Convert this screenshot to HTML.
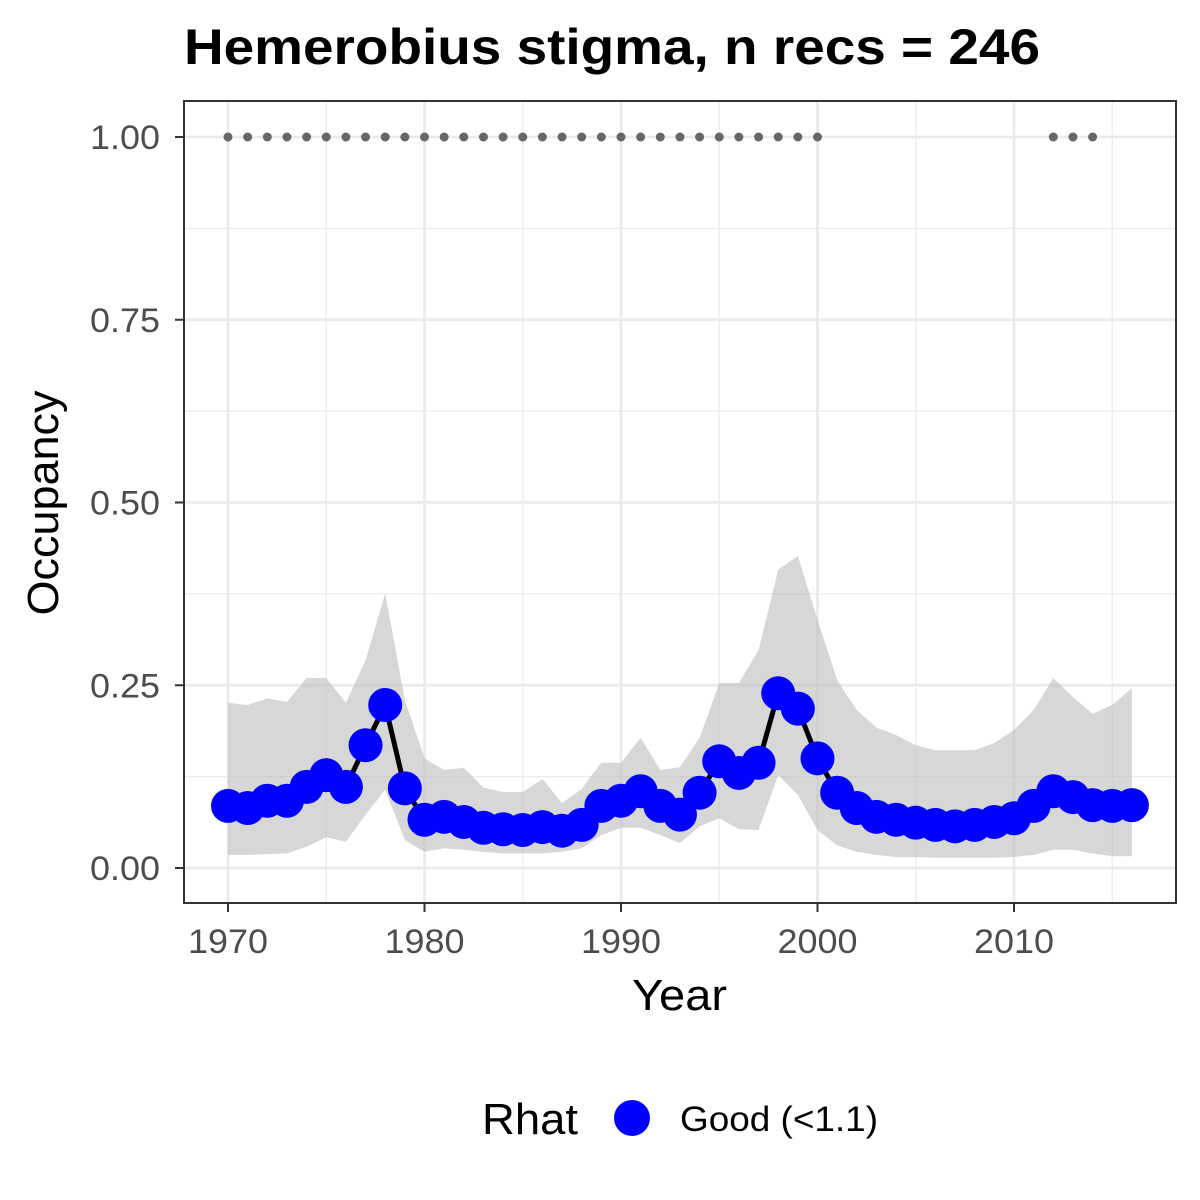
<!DOCTYPE html>
<html><head><meta charset="utf-8"><style>
html,body{margin:0;padding:0;background:#fff;}
svg{display:block;font-family:"Liberation Sans",Arial,sans-serif;}
</style></head><body>
<svg id="chart" width="1200" height="1200" viewBox="0 0 1200 1200">
<rect width="1200" height="1200" fill="#fff"/>
<text x="184" y="64" font-size="50" font-weight="bold" fill="#000" textLength="856" lengthAdjust="spacingAndGlyphs">Hemerobius stigma, n recs = 246</text>
<g id="grid"></g>
<g id="band"></g>
<g id="line"></g>
<g id="pts"></g>
<g id="dots"></g>
<rect x="184" y="101" width="992" height="802" fill="none" stroke="#333" stroke-width="2"/>
<g id="axes"></g>
<text x="632" y="1010" font-size="44" fill="#000" textLength="95" lengthAdjust="spacingAndGlyphs">Year</text>
<text transform="translate(58,503) rotate(-90)" font-size="44" text-anchor="middle" fill="#000" textLength="225" lengthAdjust="spacingAndGlyphs">Occupancy</text>
<g>
<text x="482" y="1134" font-size="44" fill="#000" textLength="96" lengthAdjust="spacingAndGlyphs">Rhat</text>
<circle cx="632" cy="1118" r="18" fill="#0000ff"/>
<text x="680" y="1131" font-size="35" fill="#000" textLength="198" lengthAdjust="spacingAndGlyphs">Good (&lt;1.1)</text>
</g>
</svg>
<script>
const years=[1970,1971,1972,1973,1974,1975,1976,1977,1978,1979,1980,1981,1982,1983,1984,1985,1986,1987,1988,1989,1990,1991,1992,1993,1994,1995,1996,1997,1998,1999,2000,2001,2002,2003,2004,2005,2006,2007,2008,2009,2010,2011,2012,2013,2014,2015,2016];
const meanOcc=[0.085,0.082,0.092,0.092,0.111,0.127,0.111,0.168,0.223,0.109,0.066,0.07,0.063,0.055,0.053,0.052,0.056,0.051,0.059,0.085,0.092,0.105,0.085,0.073,0.103,0.146,0.13,0.144,0.239,0.218,0.15,0.103,0.082,0.07,0.066,0.062,0.059,0.057,0.059,0.063,0.068,0.085,0.105,0.097,0.086,0.085,0.086];
const upperOcc=[0.226,0.223,0.232,0.227,0.26,0.26,0.226,0.284,0.376,0.23,0.15,0.134,0.137,0.11,0.104,0.104,0.122,0.089,0.108,0.144,0.144,0.178,0.134,0.138,0.178,0.253,0.253,0.298,0.408,0.427,0.34,0.257,0.216,0.192,0.182,0.168,0.161,0.161,0.161,0.171,0.189,0.216,0.26,0.234,0.211,0.223,0.246];
const lowerOcc=[0.018,0.018,0.019,0.02,0.029,0.042,0.036,0.073,0.107,0.038,0.022,0.027,0.025,0.022,0.02,0.02,0.02,0.022,0.027,0.045,0.055,0.055,0.045,0.034,0.057,0.068,0.053,0.052,0.127,0.1,0.052,0.031,0.022,0.018,0.015,0.015,0.014,0.014,0.014,0.014,0.015,0.018,0.025,0.025,0.02,0.016,0.016];
const recordYears=[1970,1971,1972,1973,1974,1975,1976,1977,1978,1979,1980,1981,1982,1983,1984,1985,1986,1987,1988,1989,1990,1991,1992,1993,1994,1995,1996,1997,1998,1999,2000,2012,2013,2014];
const xTicks=[1970,1980,1990,2000,2010];
const yTicks=[0,0.25,0.5,0.75,1];
const yTickLabels=["0.00","0.25","0.50","0.75","1.00"];

const NS="http://www.w3.org/2000/svg";
const xs=y=>228+(y-1970)*19.65;
const ys=v=>868-v*731;
function mk(tag,attrs,parent){const e=document.createElementNS(NS,tag);for(const k in attrs)e.setAttribute(k,attrs[k]);document.getElementById(parent).appendChild(e);return e;}

[1975,1985,1995,2005,2015].forEach(t=>{const e=mk('line',{x1:xs(t),x2:xs(t),y1:101,y2:903,stroke:'#ebebeb','stroke-width':1.3},'grid');

});
[0.125,0.375,0.625,0.875].forEach(t=>{const e=mk('line',{x1:184,x2:1176,y1:ys(t),y2:ys(t),stroke:'#ebebeb','stroke-width':1.3},'grid');

});
xTicks.forEach(t=>{const e=mk('line',{x1:xs(t),x2:xs(t),y1:101,y2:903,stroke:'#ebebeb','stroke-width':2.7},'grid');

});
yTicks.forEach(t=>{const e=mk('line',{x1:184,x2:1176,y1:ys(t),y2:ys(t),stroke:'#ebebeb','stroke-width':2.7},'grid');

});

let d='';years.forEach((y,i)=>{d+=(i?'L':'M')+xs(y)+','+ys(upperOcc[i]);});
for(let i=years.length-1;i>=0;i--)d+='L'+xs(years[i])+','+ys(lowerOcc[i]);
const band=mk('path',{d:d+'Z',fill:'#bdbdbd','fill-opacity':0.6},'band');



const ln=mk('polyline',{points:years.map((y,i)=>xs(y)+','+ys(meanOcc[i])).join(' '),fill:'none',stroke:'#000','stroke-width':5},'line');



years.forEach((y,i)=>{const c=mk('circle',{cx:xs(y),cy:ys(meanOcc[i]),r:17,fill:'#0000ff'},'pts');

});

recordYears.forEach(y=>{const c=mk('circle',{cx:xs(y),cy:ys(1),r:4.5,fill:'#666'},'dots');

});

xTicks.forEach(t=>{const l=mk('line',{x1:xs(t),x2:xs(t),y1:903,y2:912,stroke:'#333','stroke-width':2},'axes');


const tx=mk('text',{x:xs(t)-40,y:953,'font-size':34,fill:'#4d4d4d',textLength:80,lengthAdjust:'spacingAndGlyphs'},'axes');tx.textContent=t;

});
yTicks.forEach((t,i)=>{const l=mk('line',{x1:175,x2:184,y1:ys(t),y2:ys(t),stroke:'#333','stroke-width':2},'axes');


const tx=mk('text',{x:90,y:ys(t)+12,'font-size':34,fill:'#4d4d4d',textLength:70,lengthAdjust:'spacingAndGlyphs'},'axes');tx.textContent=yTickLabels[i];

});
</script>
</body></html>
